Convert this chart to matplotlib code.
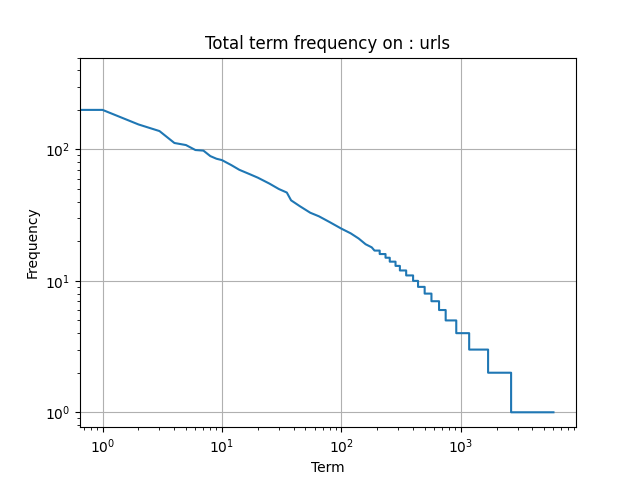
import matplotlib
matplotlib.use("Agg")
import matplotlib.pyplot as plt

# high-frequency part (rank, frequency)
top_ranks = [0, 1, 2, 3, 4, 5, 6, 7, 8, 9, 10, 12, 14, 17, 20, 25, 30, 35, 38, 45, 55, 65, 80, 100, 120, 140, 160, 180]
top_freqs = [200, 200, 155, 138, 112, 108, 99, 98, 89, 85, 83, 76, 70, 65, 61, 55, 50, 47, 41, 37, 33, 31, 28, 25, 23, 21, 19, 18]

# low-frequency steps: frequency and rank where it starts
step_freqs = [17, 16, 15, 14, 13, 12, 11, 10, 9, 8, 7, 6, 5, 4, 3, 2, 1]
step_starts = [190, 210, 235, 255, 285, 310, 350, 400, 440, 500, 570, 660, 750, 920, 1180, 1700, 2650]
last_rank = 6000

xs = list(top_ranks)
ys = list(top_freqs)
for i, f in enumerate(step_freqs):
    end = step_starts[i + 1] if i + 1 < len(step_starts) else last_rank
    xs += [step_starts[i], end]
    ys += [ys[-1], f] if False else [f, f]
    # vertical edge from previous level handled by consecutive points

fig, ax = plt.subplots(figsize=(6.4, 4.8), dpi=100)
ax.plot(xs, ys, color="#1f77b4")
ax.set_xscale("log")
ax.set_yscale("log")
ax.set_ylim(0.77, 500)
ax.grid(True)
ax.set_title("Total term frequency on : urls")
ax.set_xlabel("Term")
ax.set_ylabel("Frequency")
fig.savefig("out.png")
